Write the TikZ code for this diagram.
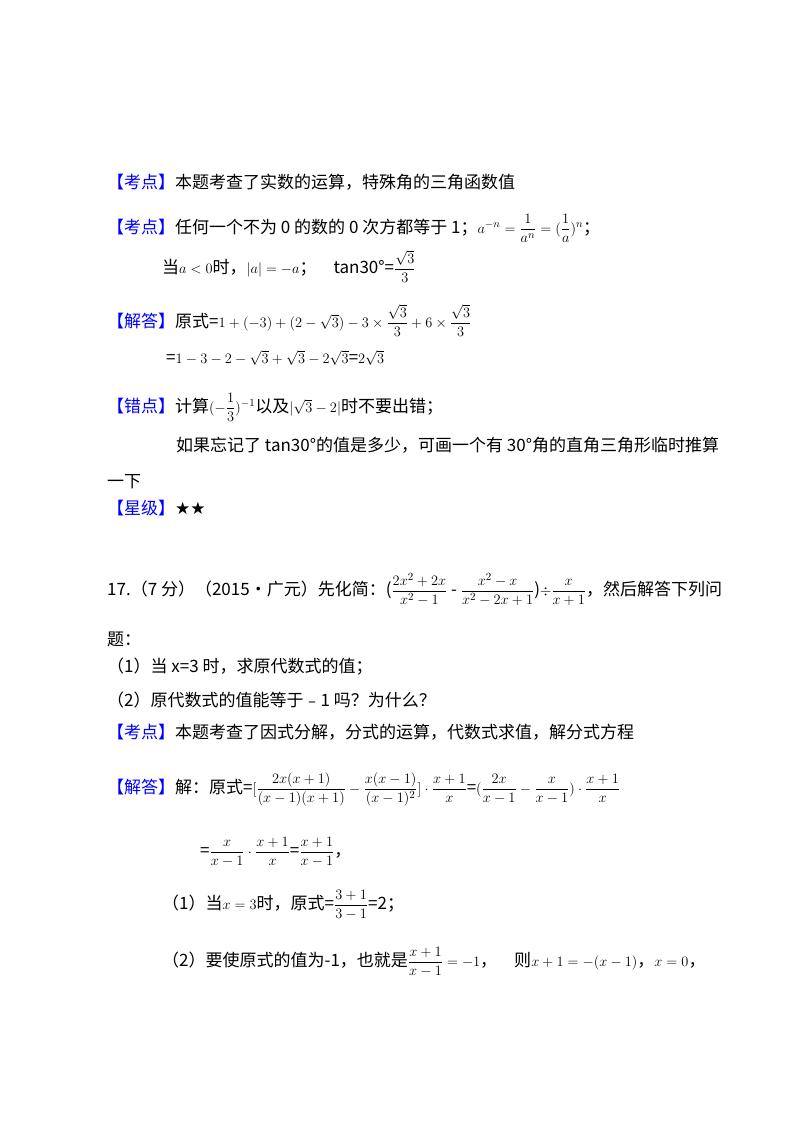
\documentclass[tikz,border=0pt]{standalone}
\usepackage{amsmath}
\usepackage{fontspec}
\setmainfont{Noto Sans CJK SC}
\newfontfamily\dvs{DejaVu Sans}
\begin{document}
\begin{tikzpicture}[x=1pt,y=-1pt,
  ln/.style={anchor=base west,inner sep=0pt,font=\fontsize{17}{20}\selectfont}]
\useasboundingbox[fill=white] (0,0) rectangle (800,1132);
\newcommand{\kdtag}[1]{\textcolor{blue}{【#1】}}
\newcommand{\sm}[1]{{\fontsize{15}{18}\selectfont$#1$}}
\node[ln] (l1) at (107,188) {\kdtag{考点}本题考查了实数的运算，特殊角的三角函数值};
\node[ln] (l2) at (107,233) {\kdtag{考点}任何一个不为 0 的数的 0 次方都等于 1；\sm{a^{-n}=\dfrac{1}{a^n}=(\dfrac{1}{a})^n}；};
\node[ln] (l3) at (162,273) {当\sm{a<0}时，\sm{|a|=-a}；\quad tan30°=\sm{\dfrac{\sqrt3}{3}}};
\node[ln] (l4) at (107,327) {\kdtag{解答}原式=\sm{1+(-3)+(2-\sqrt3)-3\times\dfrac{\sqrt3}{3}+6\times\dfrac{\sqrt3}{3}}};
\node[ln] (l5) at (166,363) {=\sm{1-3-2-\sqrt3+\sqrt3-2\sqrt3}=\sm{2\sqrt3}};
\node[ln] (l6) at (107,412) {\kdtag{错点}计算\sm{(-\dfrac13)^{-1}}以及\sm{|\sqrt3-2|}时不要出错；};
\node[ln] (l7) at (176,451) {如果忘记了 tan30°的值是多少，可画一个有 30°角的直角三角形临时推算};
\node[ln] (l8) at (107,487) {一下};
\node[ln] (l9) at (107,514) {\kdtag{星级}{\dvs ★★}};
\node[ln] (l10) at (107,595) {17.（7 分）（2015•广元）先化简：(\sm{\dfrac{2x^2+2x}{x^2-1}} - \sm{\dfrac{x^2-x}{x^2-2x+1}})\sm{\div\dfrac{x}{x+1}}，然后解答下列问};
\node[ln] (l11) at (107,645) {题：};
\node[ln] (l12) at (107,672) {（1）当 x=3 时，求原代数式的值；};
\node[ln] (l13) at (107,706) {（2）原代数式的值能等于﹣1 吗？为什么？};
\node[ln] (l14) at (107,738) {\kdtag{考点}本题考查了因式分解，分式的运算，代数式求值，解分式方程};
\node[ln] (l15) at (107,793) {\kdtag{解答}解：原式=\sm{[\dfrac{2x(x+1)}{(x-1)(x+1)}-\dfrac{x(x-1)}{(x-1)^2}]\cdot\dfrac{x+1}{x}}=\sm{(\dfrac{2x}{x-1}-\dfrac{x}{x-1})\cdot\dfrac{x+1}{x}}};
\node[ln] (l16) at (200,856) {=\sm{\dfrac{x}{x-1}\cdot\dfrac{x+1}{x}}=\sm{\dfrac{x+1}{x-1}}，};
\node[ln] (l17) at (162,909) {（1）当\sm{x=3}时，原式=\sm{\dfrac{3+1}{3-1}}=2；};
\node[ln] (l18) at (162,966) {（2）要使原式的值为-1，也就是\sm{\dfrac{x+1}{x-1}=-1}，\quad 则\sm{x+1=-(x-1)}，\sm{x=0}，};
\end{tikzpicture}
\end{document}
